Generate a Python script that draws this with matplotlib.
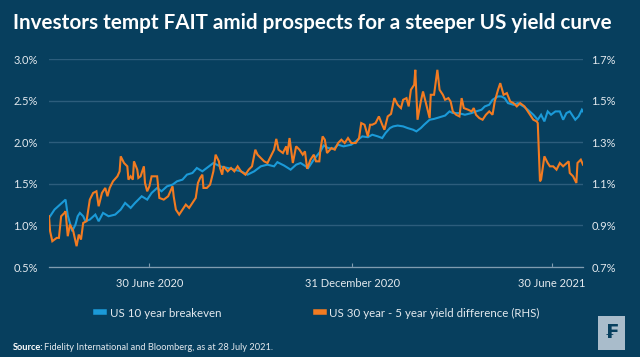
"""Breakeven inflation vs US 30y-5y yield curve steepness."""

import matplotlib
matplotlib.use("Agg")
import matplotlib.pyplot as plt
import pandas as pd
from matplotlib.lines import Line2D
from matplotlib.patches import Rectangle

# Data: day offsets from 31 March 2020 and values
START = pd.Timestamp("2020-03-31")
END = pd.Timestamp("2021-07-28")

be_days = [0, 5, 10, 15, 17, 21, 24, 26, 28, 31,
           33, 37, 42, 45, 49, 54, 60, 65, 69, 74,
           78, 84, 89, 93, 98, 102, 107, 112, 116, 121,
           125, 130, 134, 139, 143, 149, 155, 162, 168, 174,
           180, 186, 192, 198, 204, 207, 213, 219, 224, 228,
           235, 240, 246, 249, 253, 258, 262, 267, 274, 280,
           284, 289, 293, 298, 302, 305, 309, 312, 316, 321,
           325, 330, 333, 337, 340, 345, 349, 354, 359, 363,
           366, 371, 377, 383, 387, 392, 395, 399, 402, 407,
           410, 413, 416, 421, 425, 430, 434, 439, 443, 446,
           449, 452, 455, 459, 463, 466, 469, 472, 477, 480,
           483, 484]
be_vals = [1.09, 1.19, 1.25, 1.31, 1.12, 0.93, 1.01, 1.11, 1.15, 1.11,
           1.05, 1.07, 1.13, 1.05, 1.15, 1.11, 1.13, 1.19, 1.27, 1.21,
           1.27, 1.35, 1.31, 1.39, 1.45, 1.41, 1.47, 1.49, 1.53, 1.55,
           1.61, 1.63, 1.69, 1.65, 1.69, 1.75, 1.71, 1.69, 1.67, 1.65,
           1.61, 1.65, 1.71, 1.73, 1.71, 1.76, 1.72, 1.67, 1.73, 1.75,
           1.69, 1.79, 1.89, 1.96, 1.93, 1.92, 1.97, 1.95, 1.97, 2.03,
           2.07, 2.06, 2.09, 2.07, 2.05, 2.11, 2.17, 2.19, 2.20, 2.19,
           2.17, 2.15, 2.13, 2.17, 2.21, 2.27, 2.28, 2.30, 2.32, 2.37,
           2.35, 2.35, 2.33, 2.35, 2.37, 2.39, 2.43, 2.45, 2.51, 2.55,
           2.55, 2.53, 2.47, 2.45, 2.47, 2.43, 2.39, 2.33, 2.27, 2.33,
           2.25, 2.37, 2.33, 2.37, 2.37, 2.27, 2.35, 2.37, 2.27, 2.31,
           2.39, 2.37]

sp_days = [0, 1, 3, 7, 9, 11, 14, 15, 17, 19,
           22, 25, 27, 29, 31, 34, 37, 40, 43, 45,
           48, 51, 53, 55, 58, 62, 64, 65, 68, 71,
           72, 74, 76, 77, 80, 81, 83, 86, 87, 89,
           91, 93, 98, 100, 104, 108, 112, 113, 115, 118,
           121, 124, 127, 130, 133, 135, 137, 139, 140, 143,
           146, 149, 151, 154, 155, 157, 158, 162, 165, 168,
           171, 174, 178, 181, 184, 187, 189, 192, 195, 198,
           201, 204, 206, 208, 212, 215, 216, 218, 221, 224,
           227, 230, 232, 234, 237, 240, 242, 245, 246, 248,
           250, 252, 256, 259, 262, 265, 268, 271, 274, 278,
           281, 283, 286, 289, 291, 293, 296, 299, 302, 304,
           307, 310, 313, 316, 319, 321, 324, 326, 328, 331,
           332, 334, 337, 339, 342, 345, 346, 349, 352, 354,
           357, 359, 362, 364, 366, 369, 372, 374, 376, 380,
           383, 385, 387, 390, 393, 396, 399, 402, 404, 407,
           409, 412, 415, 418, 421, 424, 427, 431, 436, 439,
           442, 443, 445, 446, 449, 452, 454, 457, 460, 463,
           466, 471, 472, 475, 478, 479, 482, 484]
sp_vals = [0.944, 0.872, 0.824, 0.840, 0.840, 0.944, 0.960, 0.968, 0.848, 0.904,
           0.872, 0.800, 0.856, 0.832, 0.912, 0.920, 1.024, 1.056, 1.064, 0.992,
           1.056, 1.080, 1.040, 1.080, 1.112, 1.136, 1.160, 1.232, 1.200, 1.184,
           1.120, 1.136, 1.120, 1.208, 1.168, 1.128, 1.136, 1.184, 1.104, 1.064,
           1.088, 1.136, 1.136, 1.032, 1.024, 1.040, 1.088, 1.040, 0.976, 0.952,
           0.976, 1.000, 0.984, 1.008, 1.032, 1.104, 1.128, 1.144, 1.080, 1.080,
           1.096, 1.160, 1.240, 1.208, 1.176, 1.144, 1.184, 1.160, 1.176, 1.160,
           1.184, 1.160, 1.144, 1.168, 1.184, 1.264, 1.240, 1.224, 1.208, 1.200,
           1.232, 1.264, 1.316, 1.264, 1.248, 1.280, 1.240, 1.320, 1.200, 1.280,
           1.264, 1.240, 1.256, 1.172, 1.216, 1.240, 1.208, 1.208, 1.264, 1.328,
           1.312, 1.248, 1.272, 1.264, 1.296, 1.312, 1.296, 1.320, 1.296, 1.296,
           1.320, 1.392, 1.384, 1.328, 1.384, 1.384, 1.392, 1.424, 1.384, 1.360,
           1.424, 1.436, 1.512, 1.480, 1.464, 1.504, 1.512, 1.472, 1.552, 1.576,
           1.648, 1.408, 1.496, 1.544, 1.480, 1.416, 1.528, 1.528, 1.648, 1.552,
           1.528, 1.504, 1.512, 1.496, 1.448, 1.432, 1.424, 1.512, 1.464, 1.456,
           1.448, 1.464, 1.432, 1.416, 1.408, 1.432, 1.448, 1.432, 1.496, 1.552,
           1.584, 1.528, 1.536, 1.496, 1.488, 1.472, 1.488, 1.472, 1.432, 1.408,
           1.400, 1.392, 1.112, 1.120, 1.232, 1.200, 1.184, 1.184, 1.168, 1.200,
           1.184, 1.208, 1.152, 1.136, 1.104, 1.200, 1.216, 1.192]

left_ticks = [0.5, 1.0, 1.5, 2.0, 2.5, 3.0]
right_ticks = [0.7, 0.9, 1.1, 1.3, 1.5, 1.7]
x_ticks = ["2020-06-30", "2020-12-31", "2021-06-30"]
x_labels = ["30 June 2020", "31 December 2020", "30 June 2021"]

BG = "#073f5e"
GRID = "#2c5d7c"
AXIS = "#7f9cb0"
TEXT = "#e3e9ee"
BLUE = "#1b9ad8"
ORANGE = "#f27b21"

plt.rcParams["font.family"] = ["Lato", "DejaVu Sans"]

be_dates = START + pd.to_timedelta(be_days, unit="D")
sp_dates = START + pd.to_timedelta(sp_days, unit="D")

fig = plt.figure(figsize=(6.4, 3.57), dpi=100, facecolor=BG)
ax = fig.add_axes([49 / 640, 1 - 267 / 357, 534 / 640, 208 / 357])
ax.set_facecolor(BG)
ax2 = ax.twinx()

ax.plot(be_dates, be_vals, color=BLUE, linewidth=1.5, solid_joinstyle="miter")
ax2.plot(sp_dates, sp_vals, color=ORANGE, linewidth=1.5, solid_joinstyle="miter")

ax.set_ylim(0.5, 3.0)
ax2.set_ylim(0.7, 1.7)
ax.set_xlim(START, END)
ax.set_yticks(left_ticks)
ax.set_yticklabels([f"{v:.1f}%" for v in left_ticks])
ax2.set_yticks(right_ticks)
ax2.set_yticklabels([f"{v:.1f}%" for v in right_ticks])
ax.set_xticks(pd.to_datetime(x_ticks))
ax.set_xticklabels(x_labels)

ax.grid(axis="y", color=GRID, linewidth=1.0)
ax.set_axisbelow(True)
for a in (ax, ax2):
    for s in a.spines.values():
        s.set_visible(False)
ax.spines["bottom"].set_visible(True)
ax.spines["bottom"].set_color(AXIS)
ax.spines["bottom"].set_linewidth(0.9)

ax.tick_params(axis="y", length=0, pad=8, labelsize=8, labelcolor=TEXT)
ax2.tick_params(axis="y", length=0, pad=6, labelsize=8, labelcolor=TEXT)
ax.tick_params(axis="x", length=3, direction="in", color=AXIS, pad=8,
               labelsize=8, labelcolor=TEXT)

fig.text(13 / 640, 1 - 23 / 357, "Investors tempt FAIT amid prospects for a steeper US yield curve",
         color="white", fontsize=14.9, fontweight="bold", va="center", ha="left")

handles = [Line2D([0], [0], color=BLUE, linewidth=4),
           Line2D([0], [0], color=ORANGE, linewidth=4)]
fig.legend(handles, ["US 10 year breakeven", "US 30 year - 5 year yield difference (RHS)"],
           loc="center left", bbox_to_anchor=(90 / 640, 1 - 313 / 357), ncol=2,
           frameon=False, borderpad=0, fontsize=8.3, labelcolor=TEXT,
           handlelength=0.7, handletextpad=0.5, columnspacing=8.2)

fig.text(13 / 640, 1 - 347 / 357, "Source:", color="white", fontsize=6.7,
         fontweight="bold", va="center", ha="left")
fig.text(44 / 640, 1 - 347 / 357, "Fidelity International and Bloomberg, as at 28 July 2021.",
         color=TEXT, fontsize=6.7, va="center", ha="left")

# Fidelity logo box
fig.patches.append(Rectangle((598 / 640, 1 - 350 / 357), 27 / 640, 34 / 357,
                             transform=fig.transFigure, facecolor="#a9bccb",
                             edgecolor="none"))
fig.text(611.5 / 640, 1 - 333 / 357, "₣", color=BG, fontsize=14, fontweight="bold",
         ha="center", va="center", family="DejaVu Sans")

fig.savefig("out.png", dpi=100, facecolor=BG)
